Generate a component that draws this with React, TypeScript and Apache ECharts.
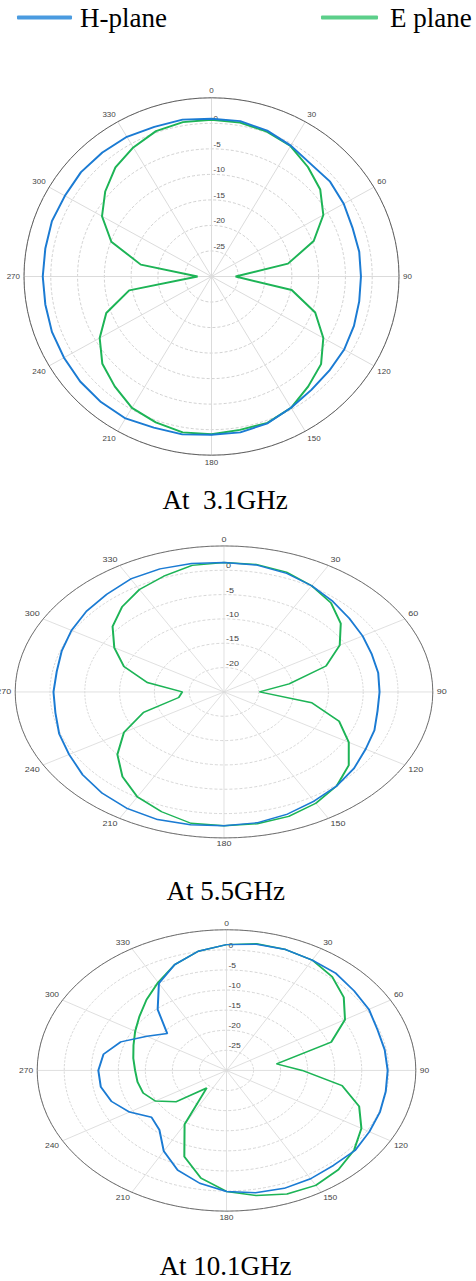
import React, { useEffect, useRef } from "react";
import * as echarts from "echarts";

// ---------- data ----------
const angles = [0, 10, 20, 30, 40, 50, 60, 70, 80, 90, 100, 110, 120, 130, 140, 150, 160, 170,
  180, 190, 200, 210, 220, 230, 240, 250, 260, 270, 280, 290, 300, 310, 320, 330, 340, 350];

const hPlane31 = [0.9, 0.9, 0.4, -0.4, -1.2, -1.1, -1.5, -2.0, -2.0, -2.1, -2.0, -1.7, -1.4, -1.3, -1.0, -0.3, 0.6, 1.0,
  1.0, 1.4, 1.5, 2.1, 2.1, 2.0, 1.8, 1.7, 1.5, 1.5, 1.5, 1.7, 1.6, 1.8, 1.7, 1.6, 1.2, 1.2];
const ePlane31 = [0.7, 0.6, 0.2, -0.5, -2.0, -3.5, -5.9, -9.7, -15.5, -25.5, -14.8, -9.4, -5.9, -3.3, -1.9, -0.3, 0.5, 0.5,
  0.9, 1.0, 0.4, -0.3, -1.9, -3.4, -5.9, -9.1, -14.4, -27.4, -16.6, -10.1, -6.4, -4.1, -2.1, -0.8, 0.3, 0.7];

const hPlane55 = [1.6, 1.5, 1.0, 0.2, -0.7, -1.5, -2.0, -2.4, -2.5, -2.65, -2.6, -2.0, -1.5, -0.6, 0.2, 0.9, 1.7, 2.3,
  2.5, 2.7, 2.9, 2.7, 2.2, 1.5, 0.7, 0.2, -0.4, -0.5, -0.6, -0.2, 0.3, 0.8, 1.2, 1.8, 1.9, 1.8];
const ePlane55 = [1.6, 1.6, 1.2, 0.2, -1.1, -3.1, -5.8, -9.4, -15.5, -19.9, -12.2, -7.4, -4.3, -1.6, 0.2, 1.4, 2.2, 2.5,
  2.5, 2.4, 1.2, -0.1, -2.3, -5.0, -8.4, -12.7, -18.4, -19.0, -13.8, -9.7, -6.8, -4.1, -2.2, -0.7, 0.3, 1.4];

const hPlane101 = [1.3, 1.9, 2.0, 1.7, 1.5, 0.8, 0.4, -0.3, -0.3, -0.2, -0.1, 0.2, 0.5, 1.0, 0.8, 1.1, 1.2, 0.9,
  0.1, -1.5, -3.6, -6.8, -10.7, -11.9, -9.3, -7.4, -6.4, -6.3, -6.9, -9.2, -13.0, -15.7, -10.2, -5.0, -2.0, 0.1];
const ePlane101 = [1.3, 2.0, 2.0, 1.7, 0.4, -1.7, -4.7, -9.4, -20.6, -16.0, -8.3, -3.9, -1.2, 0.8, 2.2, 3.0, 2.7, 1.6,
  0.1, -2.8, -7.2, -14.5, -24.3, -17.9, -14.8, -13.6, -13.3, -13.1, -12.5, -11.7, -10.5, -9.0, -7.0, -4.7, -2.0, 0.1];

const legendNames = ["H-plane", "E plane"];
const captions = ["At  3.1GHz", "At 5.5GHz", "At 10.1GHz"];
const radiusMins = [-30, -25, -30];
const radiusMax = 5;
const radiusStep = 5;
const angleStep = 30;

// ---------- style / layout ----------
const BLUE = "#1b7bd3";
const GREEN = "#1db456";
const SERIF = '"Liberation Serif", "Times New Roman", serif';
const SANS = '"Liberation Sans", Arial, sans-serif';

const charts = [
  { h: hPlane31, e: ePlane31, rMin: radiusMins[0], cx: 211, cy: 276.3, rx: 187.5, ry: 178.7, fs: 8 },
  { h: hPlane55, e: ePlane55, rMin: radiusMins[1], cx: 223.5, cy: 692, rx: 208.8, ry: 146, fs: 9 },
  { h: hPlane101, e: ePlane101, rMin: radiusMins[2], cx: 226.7, cy: 1070.7, rx: 189.3, ry: 140.7, fs: 8.5 },
];
const captionPos = [
  { x: 225, y: 500 },
  { x: 225.7, y: 891 },
  { x: 225.5, y: 1266 },
];
const PAD = 30;

function closedLoop(values: number[]) {
  const pts = angles.map((a, i) => [values[i], a]);
  pts.push([values[0], 360]);
  return pts;
}

function PolarChart({ spec }: { spec: typeof charts[number] }) {
  const ref = useRef<HTMLDivElement>(null);
  const D = 2 * (spec.rx + PAD);
  useEffect(() => {
    if (!ref.current) return;
    const chart = echarts.init(ref.current, undefined, { renderer: "svg" });
    chart.setOption({
      animation: false,
      polar: { center: ["50%", "50%"], radius: spec.rx },
      angleAxis: {
        type: "value",
        min: 0,
        max: 360,
        interval: angleStep,
        startAngle: 90,
        clockwise: true,
        axisLine: { show: true, lineStyle: { color: "#5c5c5c", width: 1 } },
        axisTick: { show: false },
        axisLabel: { color: "#444", fontSize: spec.fs, fontFamily: SANS, margin: 4 },
        splitLine: { show: true, lineStyle: { color: "#dadada", width: 1 } },
      },
      radiusAxis: {
        type: "value",
        min: spec.rMin,
        max: radiusMax,
        interval: radiusStep,
        axisLine: { show: false },
        axisTick: { show: false },
        axisLabel: {
          showMinLabel: false,
          showMaxLabel: false,
          color: "#444",
          fontSize: spec.fs,
          fontFamily: SANS,
          margin: -2,
          align: "left",
          verticalAlign: "bottom",
          padding: [0, 0, 1, 0],
        },
        splitLine: { show: true, lineStyle: { color: "#c4c4c4", type: [3, 2], width: 0.8 } },
      },
      series: [
        {
          type: "line",
          name: legendNames[1],
          coordinateSystem: "polar",
          data: closedLoop(spec.e),
          symbol: "none",
          lineStyle: { color: GREEN, width: 2 },
          itemStyle: { color: GREEN },
        },
        {
          type: "line",
          name: legendNames[0],
          coordinateSystem: "polar",
          data: closedLoop(spec.h),
          symbol: "none",
          lineStyle: { color: BLUE, width: 2 },
          itemStyle: { color: BLUE },
        },
      ],
    });
    return () => chart.dispose();
  }, []);
  const s = spec.ry / spec.rx;
  return (
    <div
      ref={ref}
      style={{
        position: "absolute",
        left: spec.cx - D / 2,
        top: spec.cy - D / 2,
        width: D,
        height: D,
        transform: `scale(1, ${s})`,
        transformOrigin: "50% 50%",
      }}
    />
  );
}

function Background() {
  const ref = useRef<HTMLDivElement>(null);
  useEffect(() => {
    if (!ref.current) return;
    const chart = echarts.init(ref.current, undefined, { renderer: "svg" });
    const legendText = { color: "#000", fontSize: 27, fontFamily: SERIF, lineHeight: 27 };
    chart.setOption({
      animation: false,
      grid: { show: false, left: 0, top: 0, width: 1, height: 1 },
      xAxis: { type: "value", show: false },
      yAxis: { type: "value", show: false },
      legend: [
        {
          data: [{ name: legendNames[0], itemStyle: { color: "#4a9be0" } }],
          left: 17,
          top: 4,
          padding: 0,
          icon: "roundRect",
          itemWidth: 55,
          itemHeight: 4,
          selectedMode: false,
          textStyle: { ...legendText, padding: [0, 0, 0, 3] },
        },
        {
          data: [{ name: legendNames[1], itemStyle: { color: "#5ccf8a" } }],
          left: 321,
          top: 4,
          padding: 0,
          icon: "roundRect",
          itemWidth: 57,
          itemHeight: 4,
          selectedMode: false,
          textStyle: { ...legendText, padding: [0, 0, 0, 7] },
        },
      ],
      series: [
        { type: "line", name: legendNames[0], data: [], symbol: "none", itemStyle: { color: BLUE }, lineStyle: { color: BLUE } },
        { type: "line", name: legendNames[1], data: [], symbol: "none", itemStyle: { color: GREEN }, lineStyle: { color: GREEN } },
      ],
      graphic: captions.map((t, i) => ({
        type: "text",
        x: captionPos[i].x,
        y: captionPos[i].y,
        style: {
          text: t,
          fontSize: 27,
          fontFamily: SERIF,
          fill: "#000",
          align: "center",
          verticalAlign: "middle",
          textAlign: "center",
          textVerticalAlign: "middle",
        },
      })),
    });
    return () => chart.dispose();
  }, []);
  return <div ref={ref} style={{ position: "absolute", left: 0, top: 0, width: 476, height: 1281 }} />;
}

export default function App() {
  return (
    <div style={{ position: "absolute", left: 0, top: 0, width: 476, height: 1281, overflow: "hidden", background: "#fff" }}>
      <Background />
      {charts.map((c, i) => (
        <PolarChart key={i} spec={c} />
      ))}
    </div>
  );
}
